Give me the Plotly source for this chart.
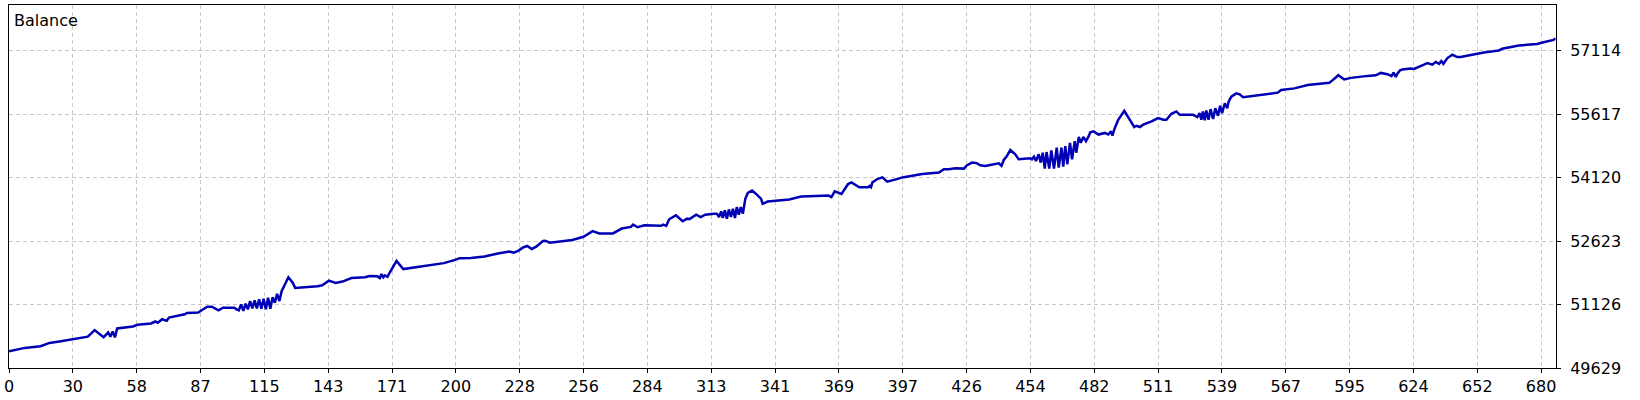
import numpy as np
import plotly.graph_objects as go

# Trade number (position along the test) and balance
trades = [
    0, 7, 14, 18, 23, 28, 32, 35, 38, 40, 42, 44, 45, 46, 47, 48, 51, 55, 57, 63,
    65, 66, 68, 70, 71, 78, 79, 84, 85, 88, 90, 93, 95, 100, 101, 102, 103, 104, 105, 106,
    107, 108, 109, 110, 111, 112, 113, 114, 115, 116, 117, 118, 119, 120, 121, 122, 124, 126, 127, 137,
    139, 142, 145, 148, 150, 152, 158, 160, 163.5, 164.6, 165.3, 166.1, 166.8, 168.0, 168.6, 172, 175, 180, 187, 193,
    198, 200, 205, 211, 217, 222, 224, 226, 228, 230, 232, 234, 237, 238, 240, 246, 250, 255, 259, 262,
    268, 272, 276, 277, 279, 282, 287, 289.5, 290.3, 291.7, 293, 296, 299, 301, 302, 305, 307, 309, 313, 314.2,
    315.1, 316.1, 316.8, 317.7, 318.6, 319.5, 320.4, 321.3, 322.2, 323.0, 323.9, 324.8, 325.7, 326.2, 326.8, 327.9, 329.8, 331.6, 333.8, 334.5,
    336.7, 346.3, 351.5, 355, 360, 363.7, 365, 366.5, 369.5, 372.4, 373.9, 377.4, 381.3, 382, 382.6, 383.2, 385.4, 387.6, 389.8, 392,
    394, 396.5, 400.9, 405.3, 412.7, 414.9, 417, 420.1, 423.8, 425.2, 427.4, 429.5, 431.1, 433.3, 436, 439.3, 440.5, 441.5, 442.9, 444.4,
    446.6, 448.1, 453.3, 454.0, 454.9, 455.8, 457.0, 457.9, 458.8, 459.7, 460.5, 461.7, 462.6, 463.8, 465.0, 465.9, 467.1, 467.9, 468.8, 469.7,
    470.9, 471.8, 473.0, 473.7, 474.8, 475.7, 476.8, 478.0, 479.2, 479.9, 481.4, 483.5, 486.4, 487.9, 489.1, 489.7, 490.8, 492.3, 495.0, 497.5,
    499.4, 500.4, 501.9, 503.4, 505.6, 507.1, 510.0, 512.3, 513.7, 515.9, 518.1, 519.6, 522.6, 525.5, 526.3, 527.4, 528.4, 529.2, 529.9, 530.7,
    531.4, 532.4, 533.3, 534.4, 535.4, 536.6, 537.5, 538.4, 539.6, 540.7, 541.3, 542.5, 544.7, 546.2, 547.7, 552.1, 558.7, 563.1, 564.6, 570.5,
    576.4, 583.8, 586.0, 587.5, 590.0, 592.6, 595.6, 603.0, 606.6, 608.8, 611.8, 613.6, 614.5, 615.5, 616.2, 617.4, 618.4, 622.1, 623.6, 628.0,
    629.5, 631.7, 633.2, 634.7, 635.7, 636.6, 638.4, 640.6, 642.8, 644.2, 647.2, 651.6, 654.6, 661.2, 662.7, 670.1, 678.2, 681.1, 685.5, 686.3,
]
balance = [
    50025, 50103, 50142, 50220, 50259, 50305, 50352, 50368, 50523, 50445, 50352, 50469, 50368, 50492, 50352, 50562, 50585, 50608, 50647, 50678,
    50725, 50694, 50779, 50741, 50818, 50896, 50927, 50935, 50974, 51075, 51075, 50989, 51052, 51052, 51013, 50989, 51129, 50974, 51145, 51013,
    51207, 51036, 51222, 51036, 51246, 51028, 51261, 51013, 51285, 51028, 51300, 51168, 51378, 51207, 51440, 51557, 51767, 51635, 51518, 51557,
    51580, 51689, 51635, 51666, 51712, 51751, 51767, 51798, 51790, 51751, 51844, 51767, 51813, 51780, 51844, 52155, 51961, 52000, 52047, 52101,
    52179, 52218, 52220, 52256, 52326, 52373, 52350, 52390, 52466, 52505, 52435, 52489, 52622, 52630, 52583, 52622, 52645, 52723, 52855, 52801,
    52801, 52917, 52956, 53010, 52948, 52995, 52995, 52980, 53010, 52980, 53135, 53228, 53088, 53150, 53140, 53244, 53189, 53244, 53267, 53267,
    53189, 53321, 53166, 53345, 53150, 53368, 53189, 53383, 53166, 53422, 53244, 53422, 53267, 53461, 53617, 53757, 53811, 53733, 53617, 53500,
    53554, 53601, 53671, 53680, 53690, 53694, 53660, 53796, 53733, 53967, 54005, 53889, 53889, 53920, 53890, 54005, 54083, 54122, 54021, 54044,
    54083, 54122, 54161, 54200, 54239, 54316, 54316, 54340, 54330, 54410, 54472, 54460, 54410, 54394, 54420, 54456, 54394, 54534, 54627, 54767,
    54666, 54550, 54573, 54550, 54612, 54511, 54666, 54472, 54705, 54332, 54720, 54332, 54759, 54332, 54822, 54355, 54822, 54379, 54860, 54433,
    54938, 54550, 54977, 54705, 55078, 54938, 55078, 54977, 55094, 55187, 55210, 55133, 55171, 55133, 55210, 55109, 55288, 55482, 55690, 55482,
    55311, 55340, 55311, 55366, 55405, 55443, 55521, 55482, 55482, 55622, 55677, 55599, 55599, 55599, 55576, 55545, 55638, 55482, 55677, 55467,
    55700, 55482, 55731, 55498, 55754, 55576, 55809, 55638, 55871, 55754, 55910, 56026, 56104, 56080, 56011, 56042, 56104, 56120, 56182, 56221,
    56299, 56353, 56353, 56415, 56532, 56431, 56469, 56516, 56530, 56586, 56555, 56508, 56594, 56493, 56570, 56648, 56664, 56687, 56679, 56780,
    56819, 56780, 56843, 56800, 56865, 56800, 56936, 57014, 56959, 56959, 56990, 57021, 57068, 57115, 57154, 57231, 57270, 57309, 57363, 57402,
]

x_tick_labels = ["0", "30", "58", "87", "115", "143", "171", "200", "228", "256", "284", "313", "341",
                 "369", "397", "426", "454", "482", "511", "539", "567", "595", "624", "652", "680"]
y_tick_values = [49629, 51126, 52623, 54120, 55617, 57114]

x_tick_pos = np.linspace(0, 680, len(x_tick_labels))

font_family = "DejaVu Sans"
grid = "#C8C8C8"

fig = go.Figure()
fig.add_trace(go.Scatter(
    x=trades, y=balance, mode="lines",
    line=dict(color="#0000B4", width=2.5),
    hoverinfo="skip", showlegend=False,
))

fig.update_layout(
    width=1640, height=400,
    margin=dict(l=4, r=84, t=4, b=29),
    paper_bgcolor="white", plot_bgcolor="white",
    font=dict(family=font_family, size=16, color="black"),
    xaxis=dict(
        range=[0, 686.6], tickmode="array", tickvals=x_tick_pos, ticktext=x_tick_labels,
        showgrid=True, gridcolor=grid, griddash="4px,3px", gridwidth=1,
        showline=True, linecolor="black", linewidth=1, mirror=True,
        ticks="outside", ticklen=4, tickcolor="black", zeroline=False,
        ticklabeloverflow="allow",
        tickfont=dict(family=font_family, size=16, color="black"),
    ),
    yaxis=dict(
        range=[49629, 58187], side="right", tickmode="array", tickvals=y_tick_values,
        ticktext=[str(v) for v in y_tick_values],
        showgrid=True, gridcolor=grid, griddash="4px,3px", gridwidth=1,
        showline=True, linecolor="black", linewidth=1, mirror=True,
        ticks="outside", ticklen=4, tickcolor="black", zeroline=False,
        ticklabelstandoff=6, ticklabeloverflow="allow",
        tickfont=dict(family=font_family, size=16, color="black"),
    ),
    annotations=[dict(
        text="Balance", xref="paper", yref="paper", x=0, y=1,
        xanchor="left", yanchor="top", xshift=3, yshift=-4, showarrow=False,
        font=dict(family=font_family, size=16, color="black"),
    )],
)

fig.write_html(
    "out.html",
    config={"displayModeBar": False},
    post_script="document.body.style.margin='0';document.body.style.padding='0';"
                "document.documentElement.style.overflow='hidden';",
)
